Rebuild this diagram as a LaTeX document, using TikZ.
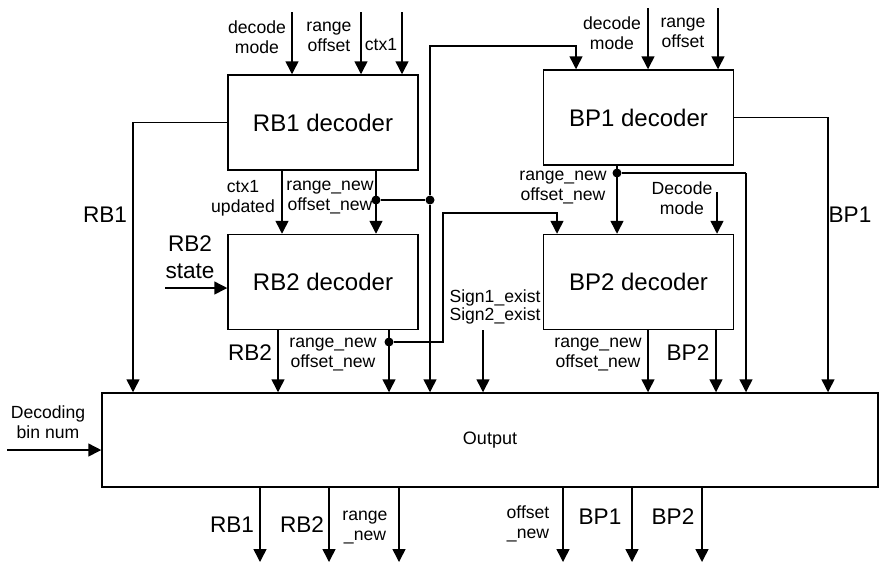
\documentclass[tikz,border=0pt]{standalone}
\usepackage{fontspec}
\setmainfont{Liberation Sans}
\usetikzlibrary{arrows.meta}

\tikzset{
  block/.style={draw, line width=0.75pt, minimum width=95pt, minimum height=47.5pt,
    inner sep=0pt, font=\fontsize{12}{14}\selectfont},
  sig/.style={line width=0.75pt, -{Triangle[length=6.5pt,width=6.5pt]}},
  wire/.style={line width=0.75pt},
  lbl/.style={font=\fontsize{8.8}{10}\selectfont, align=center, inner sep=0pt},
  biglbl/.style={font=\fontsize{11.3}{13.5}\selectfont, align=center, inner sep=0pt},
  dot/.style={circle, fill, inner sep=0pt, minimum size=4.5pt},
}

\begin{document}
\begin{tikzpicture}[x=0.5pt, y=-0.5pt]
  \useasboundingbox (0,0) rectangle (882,564);

  % Blocks
  \node[block] (rbone) at (323,122.5) {RB1 decoder};
  \node[block] (rbtwo) at (323,282) {RB2 decoder};
  \node[block] (bpone) at (638.5,117.5) {BP1 decoder};
  \node[block] (bptwo) at (638.5,282) {BP2 decoder};
  \node[block, minimum width=388pt, minimum height=47pt,
    font=\fontsize{9}{11}\selectfont] (out) at (490,440) {Output};

  % Inputs of RB1
  \coordinate (rbmode) at (292,12);
  \coordinate (rbrange) at (361,12);
  \coordinate (rbctx) at (402,12);
  \draw[sig] (rbmode) -- (rbmode |- rbone.north);
  \draw[sig] (rbrange) -- (rbrange |- rbone.north);
  \draw[sig] (rbctx) -- (rbctx |- rbone.north);
  \node[lbl] (lrbmode) at (257,37) {decode\\mode};
  \node[lbl] (lrbrange) at (329,37) {range\\offset};
  \node[lbl] (lrbctx) at (381,45) {ctx1};

  % Inputs of BP1
  \coordinate (bpmode) at (648,8);
  \coordinate (bprange) at (718,8);
  \draw[sig] (bpmode) -- (bpmode |- bpone.north);
  \draw[sig] (bprange) -- (bprange |- bpone.north);
  \node[lbl] (lbpmode) at (612,33) {decode\\mode};
  \node[lbl] (lbprange) at (683,33) {range\\offset};

  % RB1 -> RB2
  \node[dot] (ja) at (376,200) {};
  \node[dot] (jb) at (430,200) {};
  \coordinate (ctxup) at (282,200);
  \draw[sig] (rbone.south -| ctxup) -- (rbtwo.north -| ctxup);
  \draw[sig] (rbone.south -| ja) -- (rbtwo.north -| ja);
  \draw[wire] (ja) -- (jb);
  \coordinate (bpbend) at (576,46);
  \draw[sig] (jb) |- (bpbend) -- (bpbend |- bpone.north);
  \draw[sig] (jb) -- (jb |- out.north);
  \node[lbl] (lctxup) at (243,198) {ctx1\\updated};
  \node[lbl] (lrbnew) at (330,198) {range\_new\\offset\_new};

  % RB1 -> Output
  \coordinate (rbleft) at (133,0);
  \draw[sig] (rbone.west) -| (rbleft |- out.north);
  \node[biglbl] (lrbone) at (105,215) {RB1};

  % RB2
  \coordinate (rbstate) at (165,288);
  \draw[sig] (rbstate) -- (rbstate -| rbtwo.west);
  \node[biglbl] (lrbstate) at (190,257) {RB2\\state};
  \coordinate (rbtwoout) at (278,0);
  \draw[sig] (rbtwo.south -| rbtwoout) -- (rbtwoout |- out.north);
  \node[biglbl] (lrbtwo) at (250,353) {RB2};
  \node[dot] (jc) at (389,342) {};
  \draw[sig] (rbtwo.south -| jc) -- (jc |- out.north);
  \coordinate (bptwobend) at (557,213);
  \draw[sig] (jc) -- ++(54,0) |- (bptwobend) -- (bptwobend |- bptwo.north);
  \node[lbl] (lrbtwonew) at (333,354) {range\_new\\offset\_new};

  % BP1 -> BP2
  \node[dot] (jd) at (617,173) {};
  \draw[sig] (bpone.south -| jd) -- (bptwo.north -| jd);
  \coordinate (bpbus) at (746,173);
  \draw[wire] (jd) -- (bpbus);
  \draw[sig] (bpbus) -- (bpbus |- out.north);
  \node[lbl] (lbpnew) at (563,188) {range\_new\\offset\_new};
  \coordinate (bpdmode) at (717,192);
  \draw[sig] (bpdmode) -- (bpdmode |- bptwo.north);
  \node[lbl] (lbpdmode) at (682,198) {Decode\\mode};

  % BP1 -> Output
  \coordinate (bpright) at (828,0);
  \draw[sig] (bpone.east) -| (bpright |- out.north);
  \node[biglbl] (lbpone) at (850,215) {BP1};

  % BP2 -> Output
  \coordinate (bptwonew) at (648,0);
  \coordinate (bptwoout) at (716,0);
  \draw[sig] (bptwo.south -| bptwonew) -- (bptwonew |- out.north);
  \draw[sig] (bptwo.south -| bptwoout) -- (bptwoout |- out.north);
  \node[lbl] (lbptwonew) at (598,354) {range\_new\\offset\_new};
  \node[biglbl] (lbptwo) at (688,353) {BP2};

  % Sign flags
  \coordinate (signin) at (483,330);
  \draw[sig] (signin) -- (signin |- out.north);
  \node[lbl, font=\fontsize{8.8}{9}\selectfont] (lsign) at (495,307) {Sign1\_exist\\Sign2\_exist};

  % Decoding bin num
  \coordinate (binnum) at (7,450);
  \draw[sig] (binnum) -- (binnum -| out.west);
  \node[lbl] (lbinnum) at (48,422) {Decoding\\bin num};

  % Outputs
  \foreach \x/\n in {260/a,329/b,399/c,563/d,632/e,702/f} {
    \coordinate (o\n) at (\x,562);
    \draw[sig] (out.south -| o\n) -- (o\n);
  }
  \node[biglbl] (loa) at (232,525) {RB1};
  \node[biglbl] (lob) at (302,525) {RB2};
  \node[lbl] (loc) at (365,527) {range\\\_new};
  \node[lbl] (lod) at (528,524) {offset\\\_new};
  \node[biglbl] (loe) at (600,517) {BP1};
  \node[biglbl] (lof) at (673,517) {BP2};
\end{tikzpicture}
\end{document}
